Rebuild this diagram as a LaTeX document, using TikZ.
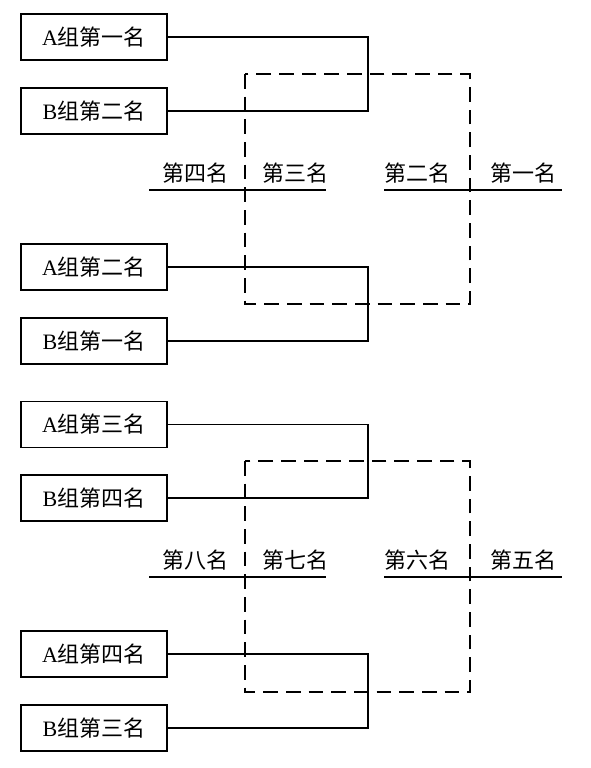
\documentclass[tikz,border=0pt]{standalone}
\usepackage{fontspec}
\setmainfont{Liberation Serif}
\newfontfamily\cjk{Noto Sans CJK SC}
\tikzset{
  teambox/.style={draw, line width=1.3pt, minimum width=109.5pt, minimum height=34.5pt, inner sep=0pt, font=\fontsize{16.5}{19}\selectfont},
  rank/.style={inner sep=0pt, font=\fontsize{16.5}{19}\selectfont\cjk},
  link/.style={line width=1.2pt},
  dashbox/.style={line width=1.2pt, dash pattern=on 11pt off 6pt},
  uline/.style={line width=1.3pt}
}
\begin{document}
\begin{tikzpicture}[x=0.75pt,y=-0.75pt]
\useasboundingbox (0,0) rectangle (590,768);
% ---------- upper bracket ----------
\node[teambox] (a1) at (94,37)  {A{\cjk 组第一名}};
\node[teambox] (b2) at (94,111) {B{\cjk 组第二名}};
\node[teambox] (a2) at (94,267) {A{\cjk 组第二名}};
\node[teambox] (b1) at (94,341) {B{\cjk 组第一名}};
\coordinate (j1) at (368,74);
\coordinate (j2) at (368,304);
\draw[link] (a1.east) -| (j1) |- (b2.east);
\draw[link] (a2.east) -| (j2) |- (b1.east);
\draw[dashbox] (245,74) rectangle (470,304);
\coordinate (ul1s) at (149,190); \coordinate (ul1e) at (326,190);
\coordinate (ur1s) at (384,190); \coordinate (ur1e) at (562,190);
\draw[uline] (ul1s) -- (ul1e);
\draw[uline] (ur1s) -- (ur1e);
\node[rank] (r4) at (195,173) {第四名};
\node[rank] (r3) at (295,173) {第三名};
\node[rank] (r2) at (417,173) {第二名};
\node[rank] (r1) at (523,173) {第一名};
% ---------- lower bracket ----------
\node[teambox] (a3) at (94,424.5) {A{\cjk 组第三名}};
\node[teambox] (b4) at (94,498)   {B{\cjk 组第四名}};
\node[teambox] (a4) at (94,654)   {A{\cjk 组第四名}};
\node[teambox] (b3) at (94,728)   {B{\cjk 组第三名}};
\coordinate (j3) at (368,461);
\coordinate (j4) at (368,692);
\draw[link] (a3.east) -| (j3) |- (b4.east);
\draw[link] (a4.east) -| (j4) |- (b3.east);
\draw[dashbox] (245,461) rectangle (470,692);
\coordinate (ul2s) at (149,577); \coordinate (ul2e) at (326,577);
\coordinate (ur2s) at (384,577); \coordinate (ur2e) at (562,577);
\draw[uline] (ul2s) -- (ul2e);
\draw[uline] (ur2s) -- (ur2e);
\node[rank] (r8) at (195,560) {第八名};
\node[rank] (r7) at (295,560) {第七名};
\node[rank] (r6) at (417,560) {第六名};
\node[rank] (r5) at (523,560) {第五名};
\end{tikzpicture}
\end{document}
